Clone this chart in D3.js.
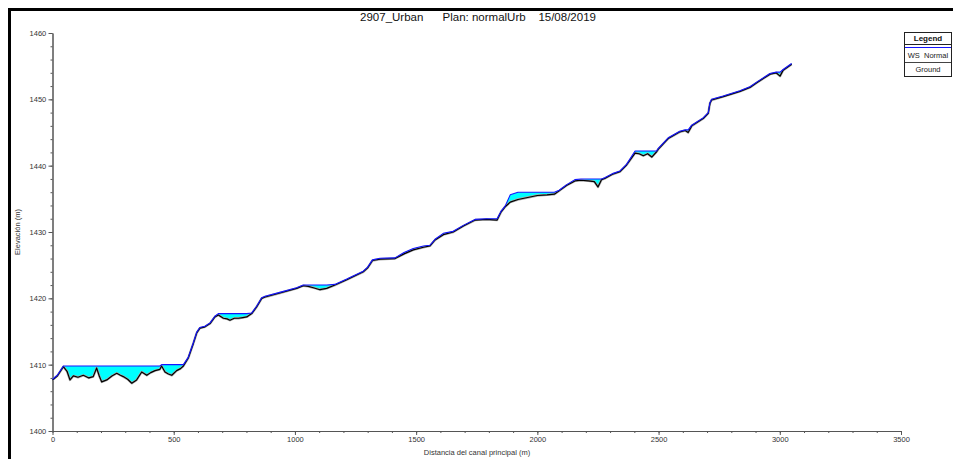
<!DOCTYPE html>
<html>
<head>
<meta charset="utf-8">
<script src="https://cdn.jsdelivr.net/npm/d3@7"></script>
<style>
  html, body { margin: 0; padding: 0; background: #fff; }
  svg { display: block; font-family: "Liberation Sans", Arial, sans-serif; }
</style>
</head>
<body>
<svg id="chart" width="953" height="459"></svg>
<script>
// Longitudinal profile along the main channel (m)
const stations = [0, 20, 45, 60, 72, 86, 105, 127, 150, 168, 182, 193, 203, 224, 245, 265, 280, 292, 310, 327,
  347, 368, 389, 405, 423, 443, 450, 464, 478, 492, 512, 528, 540, 560, 581, 595, 608, 629, 650, 670,
  684, 705, 720, 732, 750, 767, 785, 801, 822, 842, 863, 877, 938, 1007, 1035, 1055, 1076, 1103, 1131, 1165,
  1214, 1282, 1300, 1320, 1351, 1413, 1450, 1488, 1530, 1557, 1578, 1612, 1653, 1695, 1743, 1790, 1834, 1850, 1867, 1888,
  1920, 1960, 2000, 2040, 2070, 2090, 2120, 2155, 2180, 2210, 2235, 2250, 2265, 2280, 2310, 2341, 2368, 2403, 2420, 2437,
  2455, 2472, 2492, 2499, 2540, 2588, 2610, 2622, 2637, 2684, 2705, 2712, 2719, 2767, 2836, 2877, 2905, 2960, 2985, 3001,
  3014, 3049];

// Channel bed elevation (m)
const ground = [1407.7, 1408.3, 1409.7, 1409.0, 1407.7, 1408.3, 1408.1, 1408.4, 1408.0, 1408.2, 1409.5, 1408.3, 1407.4, 1407.7, 1408.3, 1408.7, 1408.4, 1408.2, 1407.8, 1407.2,
  1407.7, 1408.9, 1408.4, 1408.8, 1409.1, 1409.3, 1409.8, 1408.9, 1408.6, 1408.4, 1409.1, 1409.4, 1409.8, 1411.0, 1413.2, 1414.8, 1415.5, 1415.7, 1416.2, 1417.2,
  1417.5, 1417.0, 1416.9, 1416.7, 1417.0, 1417.0, 1417.1, 1417.2, 1417.7, 1418.7, 1420.0, 1420.2, 1420.8, 1421.5, 1421.9, 1421.8, 1421.6, 1421.3, 1421.5, 1422.0,
  1422.8, 1424.0, 1424.6, 1425.7, 1425.9, 1426.0, 1426.7, 1427.3, 1427.7, 1427.9, 1428.8, 1429.6, 1430.0, 1430.9, 1431.8, 1431.9, 1431.8, 1433.0, 1433.8, 1434.5,
  1434.9, 1435.2, 1435.5, 1435.6, 1435.7, 1436.2, 1437.0, 1437.7, 1437.8, 1437.7, 1437.6, 1436.8, 1437.9, 1438.1, 1438.7, 1439.1, 1440.1, 1441.9, 1441.8, 1441.5,
  1441.8, 1441.3, 1442.1, 1442.5, 1444.1, 1445.1, 1445.3, 1445.0, 1446.0, 1447.1, 1447.9, 1449.4, 1449.9, 1450.4, 1451.2, 1451.8, 1452.5, 1453.8, 1454.0, 1453.5,
  1454.4, 1455.3];

// Water surface, normal-depth plan (m)
const wsNormal = [1407.8, 1408.4, 1409.8, 1409.8, 1409.8, 1409.8, 1409.8, 1409.8, 1409.8, 1409.8, 1409.8, 1409.8, 1409.8, 1409.8, 1409.8, 1409.8, 1409.8, 1409.8, 1409.8, 1409.8,
  1409.8, 1409.8, 1409.8, 1409.8, 1409.8, 1409.8, 1410.0, 1410.0, 1410.0, 1410.0, 1410.0, 1410.0, 1410.0, 1411.1, 1413.3, 1414.9, 1415.6, 1415.8, 1416.3, 1417.3,
  1417.7, 1417.7, 1417.7, 1417.7, 1417.7, 1417.7, 1417.7, 1417.7, 1417.8, 1418.8, 1420.1, 1420.3, 1420.9, 1421.6, 1422.0, 1422.0, 1422.0, 1422.0, 1422.0, 1422.1,
  1422.9, 1424.1, 1424.7, 1425.8, 1426.05, 1426.1, 1426.9, 1427.5, 1427.9, 1428.0, 1428.9, 1429.8, 1430.1, 1431.0, 1431.9, 1432.0, 1432.0, 1433.1, 1433.9, 1435.6,
  1436.0, 1436.0, 1436.0, 1436.0, 1436.0, 1436.3, 1437.1, 1437.9, 1438.0, 1438.0, 1438.0, 1438.0, 1438.0, 1438.2, 1438.8, 1439.2, 1440.2, 1442.2, 1442.2, 1442.2,
  1442.2, 1442.2, 1442.2, 1442.6, 1444.2, 1445.2, 1445.4, 1445.4, 1446.1, 1447.2, 1448.0, 1449.5, 1450.0, 1450.5, 1451.3, 1451.9, 1452.6, 1453.9, 1454.1, 1454.1,
  1454.5, 1455.4];

const xTicks = [0, 500, 1000, 1500, 2000, 2500, 3000, 3500];
const yTicks = [1400, 1410, 1420, 1430, 1440, 1450, 1460];

const titleText = "2907_Urban      Plan: normalUrb    15/08/2019";
const xTitle = "Distancia del canal principal (m)";
const yTitle = "Elevación (m)";
const legendItems = ["WS  Normal", "Ground"];

const svg = d3.select("#chart");

const x = d3.scaleLinear().domain([0, 3500]).range([52.5, 901]);
const y = d3.scaleLinear().domain([1400, 1460]).range([431, 33]);

const rows = stations.map((s, i) => ({ s, g: ground[i], w: wsNormal[i] }));

// Window frame
svg.append("path")
  .attr("d", "M9.5,470 L9.5,9.5 L960,9.5")
  .attr("fill", "none").attr("stroke", "#000").attr("stroke-width", 3);

// Title
svg.append("text")
  .attr("x", 478).attr("y", 21)
  .attr("text-anchor", "middle")
  .attr("font-size", 11.5)
  .style("white-space", "pre")
  .attr("fill", "#111")
  .text(titleText);

// Axes
const axisColor = "#555";
const fmt = d3.format("d");
const xAxis = d3.axisBottom(x).tickValues(xTicks).tickFormat(fmt).tickSize(4).tickSizeOuter(0);
const xMinor = d3.axisBottom(x).tickValues(d3.range(0, 3501, 100)).tickSize(2).tickFormat("").tickSizeOuter(0);
const yAxis = d3.axisLeft(y).tickValues(yTicks).tickFormat(fmt).tickSize(4).tickSizeOuter(0);
const yMinor = d3.axisLeft(y).tickValues(d3.range(1400, 1461, 2)).tickSize(2).tickFormat("").tickSizeOuter(0);

function styleAxis(g) {
  g.selectAll("path, line").attr("stroke", axisColor);
  g.selectAll("text").attr("font-size", 7.5).attr("fill", "#333")
    .attr("font-family", "\"Liberation Sans Narrow\", \"Liberation Sans\", Arial, sans-serif");
}

svg.append("g").attr("transform", "translate(0,431)").call(xMinor).call(styleAxis);
svg.append("g").attr("transform", "translate(0,431)").call(xAxis).call(styleAxis)
  .selectAll("text").attr("dy", "0.55em");
svg.append("g").attr("transform", "translate(52.5,0)").call(yMinor).call(styleAxis);
svg.append("g").attr("transform", "translate(52.5,0)").call(yAxis).call(styleAxis)
  .selectAll("text").attr("dx", "0.1em");

// Axis titles
svg.append("text")
  .attr("x", 477).attr("y", 455)
  .attr("text-anchor", "middle")
  .attr("font-size", 7.5).attr("fill", "#333")
  .text(xTitle);
svg.append("text")
  .attr("transform", "translate(20,232) rotate(-90)")
  .attr("text-anchor", "middle")
  .attr("font-size", 7.5).attr("fill", "#333")
  .text(yTitle);

// Ponded water between bed and water surface
const area = d3.area()
  .x(d => x(d.s))
  .y0(d => y(d.g))
  .y1(d => y(Math.max(d.w, d.g)));
svg.append("path")
  .datum(rows)
  .attr("d", area)
  .attr("fill", "#00ffff");

// Ground line, drawn with a soft grey halo under a black core
const groundLine = d3.line().x(d => x(d.s)).y(d => y(d.g));
svg.append("path").datum(rows).attr("d", groundLine)
  .attr("fill", "none").attr("stroke", "#aaa").attr("stroke-width", 2.4)
  .attr("stroke-linejoin", "round");
svg.append("path").datum(rows).attr("d", groundLine)
  .attr("fill", "none").attr("stroke", "#000").attr("stroke-width", 1.2)
  .attr("stroke-linejoin", "round");

// Water surface line
const wsLine = d3.line().x(d => x(d.s)).y(d => y(d.w));
svg.append("path").datum(rows).attr("d", wsLine)
  .attr("fill", "none").attr("stroke", "#1414ff").attr("stroke-width", 1.1)
  .attr("stroke-linejoin", "round");

// Legend
const lg = svg.append("g").attr("transform", "translate(904,32)");
lg.append("rect").attr("x", 0.5).attr("y", 0.5).attr("width", 47).attr("height", 44)
  .attr("fill", "#fff").attr("stroke", "#222").attr("stroke-width", 1);
lg.append("text").attr("x", 24).attr("y", 9).attr("text-anchor", "middle")
  .attr("font-size", 8).attr("font-weight", "bold").attr("fill", "#111").text("Legend");
lg.append("line").attr("x1", 0).attr("x2", 48).attr("y1", 12.5).attr("y2", 12.5)
  .attr("stroke", "#222");
lg.append("line").attr("x1", 1).attr("x2", 47).attr("y1", 15.5).attr("y2", 15.5)
  .attr("stroke", "#1414ff").attr("stroke-width", 1.2);
lg.append("text").attr("x", 24).attr("y", 26).attr("text-anchor", "middle")
  .attr("font-size", 7.5).attr("fill", "#222").style("white-space", "pre").text(legendItems[0]);
lg.append("line").attr("x1", 1).attr("x2", 47).attr("y1", 30.5).attr("y2", 30.5)
  .attr("stroke", "#444").attr("stroke-width", 1);
lg.append("text").attr("x", 24).attr("y", 40).attr("text-anchor", "middle")
  .attr("font-size", 7.5).attr("fill", "#222").text(legendItems[1]);
</script>
</body>
</html>
